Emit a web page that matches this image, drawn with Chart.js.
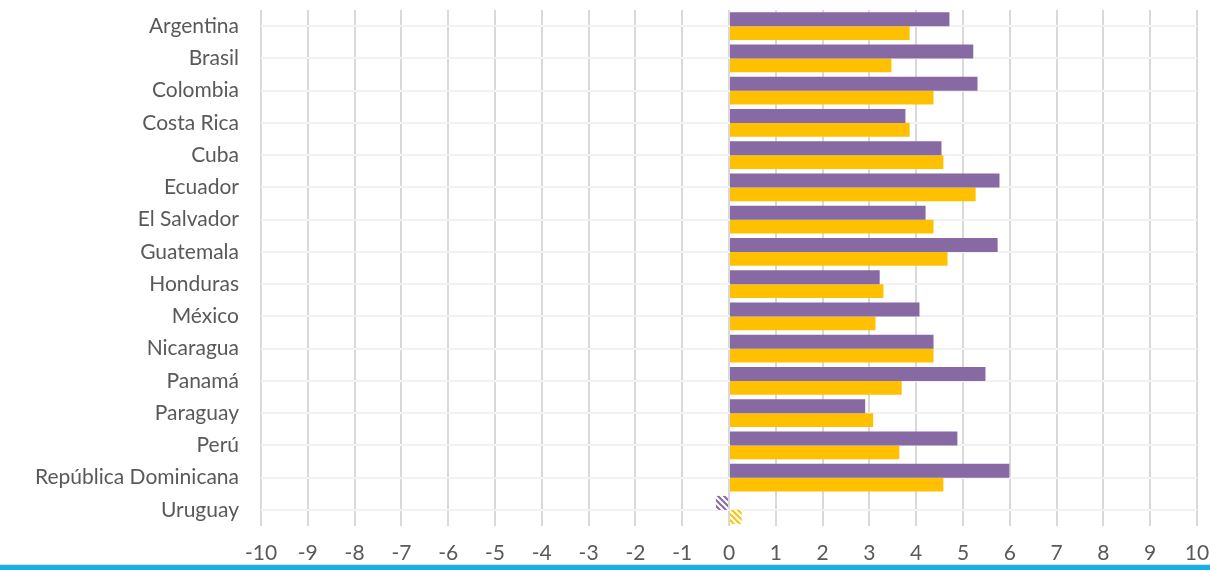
<!DOCTYPE html>
<html>
<head>
<meta charset="utf-8">
<script src="https://cdn.jsdelivr.net/npm/chart.js@4"></script>
<style>
  html, body { margin: 0; padding: 0; background: #fff; }
  #wrap { position: relative; width: 1210px; height: 564px; }
  .rule-light { height: 1px; background: #cfe8f5; width: 1210px; }
  .rule-blue { height: 5px; background: #1aade6; width: 1210px; }
</style>
</head>
<body>
<div id="wrap"><canvas id="chart1"></canvas></div>
<div class="rule-light"></div>
<div class="rule-blue"></div>
<script>
// Datos
const paises = ['Argentina', 'Brasil', 'Colombia', 'Costa Rica', 'Cuba', 'Ecuador', 'El Salvador', 'Guatemala',
    'Honduras', 'México', 'Nicaragua', 'Panamá', 'Paraguay', 'Perú', 'República Dominicana', 'Uruguay'];
const serieMorada = [4.71, 5.22, 5.31, 3.77, 4.54, 5.78, 4.20, 5.74, 3.22, 4.07, 4.37, 5.48, 2.91, 4.88, 5.99, -0.28];
const serieAmarilla = [3.86, 3.47, 4.37, 3.86, 4.58, 5.27, 4.37, 4.67, 3.30, 3.13, 4.37, 3.69, 3.08, 3.64, 4.58, 0.27];
const ticksX = [-10, -9, -8, -7, -6, -5, -4, -3, -2, -1, 0, 1, 2, 3, 4, 5, 6, 7, 8, 9, 10];
// Uruguay va rayado (dato estimado)
const rayados = ['Uruguay'];

const MORADO = '#8769a4';
const AMARILLO = '#ffc000';

// Trama diagonal para las barras rayadas
function trama(color) {
    const c = document.createElement('canvas');
    c.width = 6; c.height = 6;
    const ctx = c.getContext('2d');
    ctx.fillStyle = '#fff';
    ctx.fillRect(0, 0, 6, 6);
    ctx.strokeStyle = color;
    ctx.lineWidth = 2;
    ctx.beginPath();
    ctx.moveTo(-1, -1); ctx.lineTo(7, 7);
    ctx.moveTo(-4, 2); ctx.lineTo(4, 10);
    ctx.moveTo(2, -4); ctx.lineTo(10, 4);
    ctx.stroke();
    return ctx.createPattern(c, 'repeat');
}

function colores(color) {
    const t = trama(color);
    return paises.map(p => rayados.includes(p) ? t : color);
}

const fuente = { family: 'Lato, "Noto Sans", sans-serif', size: 21 };

const chart = new Chart(document.getElementById('chart1'), {
    type: 'bar',
    data: {
        labels: paises,
        datasets: [
            { data: serieMorada, backgroundColor: colores(MORADO), borderWidth: 0 },
            { data: serieAmarilla, backgroundColor: colores(AMARILLO), borderWidth: 0 }
        ]
    },
    options: {
        indexAxis: 'y',
        responsive: true,
        maintainAspectRatio: false,
        animation: false,
        categoryPercentage: 0.867,
        barPercentage: 1,
        layout: { padding: { top: 10, right: 13, left: 0, bottom: 0 } },
        plugins: {
            legend: { display: false },
            tooltip: { enabled: false }
        },
        scales: {
            x: {
                min: -10,
                max: 10,
                afterBuildTicks: (s) => { s.ticks = ticksX.map(v => ({ value: v })); },
                // alto fijo y sin relleno extra a los lados
                afterFit: (s) => { s.height = 38; s.paddingLeft = 0; s.paddingRight = 0; },
                grid: { color: '#d9d9d9', lineWidth: 2, drawTicks: false },
                border: { display: false },
                ticks: { color: '#595959', font: fuente, padding: 15, maxRotation: 0 }
            },
            y: {
                afterFit: (s) => { s.width = 261; s.paddingTop = 0; s.paddingBottom = 0; },
                grid: { color: '#f2f2f2', lineWidth: 2, offset: false, drawTicks: false },
                border: { display: false },
                ticks: { color: '#595959', font: fuente, padding: 22 }
            }
        }
    }
});
</script>
</body>
</html>
